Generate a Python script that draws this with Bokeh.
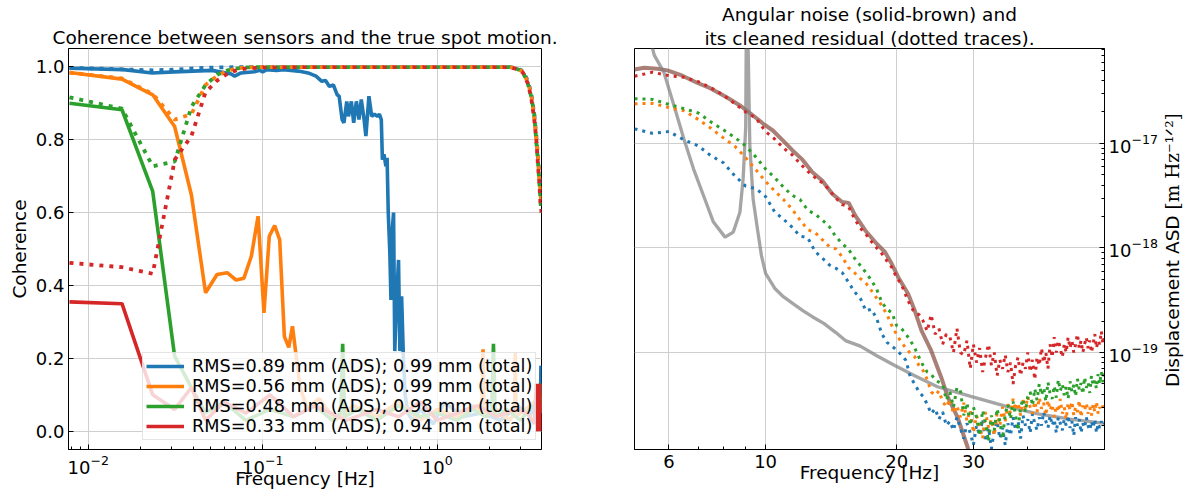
import math
import numpy as np
from bokeh.plotting import figure
from bokeh.layouts import row
from bokeh.models import (FixedTicker, LogTickFormatter, NumeralTickFormatter,
                          Legend, LegendItem, Title, Label)
from bokeh.embed import file_html
from bokeh.resources import INLINE

FONT = "DejaVu Sans"
SERIF = "DejaVu Serif"
BLUE, ORANGE, GREEN, RED = "#1f77b4", "#ff7f0e", "#2ca02c", "#d62728"
BROWN, GREY = "#8c564b", "#7f7f7f"

# ---------------------------------------------------------------------------
# Left panel: coherence of each sensor (solid) and of the total (dotted)
# ---------------------------------------------------------------------------
LEGEND_LABELS = [
    "RMS=0.89 mm (ADS); 0.99 mm (total)",
    "RMS=0.56 mm (ADS); 0.99 mm (total)",
    "RMS=0.48 mm (ADS); 0.98 mm (total)",
    "RMS=0.33 mm (ADS); 0.94 mm (total)",
]

blue_f = [0.0078, 0.0159, 0.0233, 0.031, 0.0512, 0.066, 0.069, 0.075, 0.0895, 0.096,
          0.1, 0.105, 0.12, 0.131, 0.145, 0.16, 0.182, 0.202, 0.218, 0.229,
          0.241, 0.254, 0.267, 0.274, 0.285, 0.292, 0.303, 0.31, 0.322, 0.332,
          0.344, 0.356, 0.367, 0.381, 0.39, 0.406, 0.421, 0.436, 0.454, 0.466,
          0.478, 0.485, 0.495, 0.508, 0.516, 0.524, 0.535, 0.543, 0.552, 0.562,
          0.571, 0.585, 0.6, 0.611, 0.625, 0.64, 0.655, 0.68, 0.72, 0.8,
          0.95, 1.1, 1.4, 1.8, 2.3, 2.9, 3.4, 3.7, 3.85, 3.9,
          3.93, 3.96]
blue_coh = [0.996, 0.992, 0.983, 0.986, 0.99, 0.98, 0.974, 0.983, 0.986, 0.99,
            0.986, 0.992, 0.99, 0.992, 0.99, 0.988, 0.983, 0.974, 0.96, 0.962,
            0.946, 0.95, 0.923, 0.919, 0.855, 0.846, 0.905, 0.864, 0.905, 0.846,
            0.905, 0.855, 0.91, 0.855, 0.81, 0.919, 0.864, 0.87, 0.864, 0.87,
            0.855, 0.745, 0.76, 0.727, 0.75, 0.6, 0.49, 0.36, 0.55, 0.6,
            0.22, 0.36, 0.47, 0.22, 0.37, 0.2, 0.1, 0.05, 0.03, 0.06,
            0.02, 0.08, 0.04, 0.05, 0.03, 0.07, 0.04, 0.09, 0.12, 0.05,
            0.18, 0.1]

orange_f = [0.0078, 0.0156, 0.0234, 0.03125, 0.039, 0.047, 0.0547, 0.0625, 0.0703, 0.078,
            0.086, 0.094, 0.1016, 0.109, 0.117, 0.125, 0.133, 0.141, 0.148, 0.156,
            0.164, 0.18, 0.21, 0.26, 0.33, 0.45, 0.6, 0.8, 1.0, 1.3,
            1.6, 1.8, 1.83, 1.86, 2.2, 2.6, 2.78, 2.8, 2.83, 3.2,
            3.6, 3.8, 3.9, 3.96]
orange_coh = [0.984, 0.966, 0.923, 0.836, 0.648, 0.38, 0.43, 0.435, 0.415, 0.42,
              0.48, 0.59, 0.325, 0.535, 0.564, 0.526, 0.26, 0.23, 0.288, 0.2,
              0.12, 0.06, 0.09, 0.03, 0.07, 0.04, 0.08, 0.03, 0.06, 0.04,
              0.07, 0.05, 0.225, 0.04, 0.06, 0.03, 0.05, 0.215, 0.04, 0.06,
              0.08, 0.02, 0.1, 0.05]

green_f = [0.0078, 0.0156, 0.0234, 0.03125, 0.039, 0.047, 0.06, 0.08, 0.11, 0.15,
           0.2, 0.25, 0.28, 0.287, 0.295, 0.35, 0.45, 0.6, 0.8, 1.0,
           1.3, 1.6, 1.9, 2.05, 2.1, 2.15, 2.5, 3.0, 3.5, 3.8,
           3.9, 3.96]
green_coh = [0.9, 0.882, 0.658, 0.206, 0.12, 0.05, 0.08, 0.03, 0.06, 0.04,
             0.07, 0.03, 0.05, 0.24, 0.04, 0.06, 0.03, 0.07, 0.04, 0.05,
             0.03, 0.06, 0.04, 0.05, 0.24, 0.04, 0.06, 0.03, 0.07, 0.05,
             0.13, 0.08]

red_f = [0.0078, 0.0156, 0.0234, 0.03125, 0.039, 0.047, 0.06, 0.08, 0.11, 0.15,
         0.2, 0.3, 0.45, 0.6, 0.8, 1.0, 1.3, 1.7, 2.2, 2.8,
         3.3, 3.6, 3.7, 3.75, 3.8, 3.83, 3.86, 3.88, 3.9, 3.92,
         3.94, 3.95, 3.96]
red_coh = [0.355, 0.35, 0.1, 0.06, 0.12, 0.03, 0.08, 0.05, 0.1, 0.04,
           0.07, 0.03, 0.06, 0.04, 0.08, 0.03, 0.05, 0.07, 0.04, 0.06,
           0.05, 0.02, 0.13, 0.0, 0.12, 0.01, 0.13, 0.0, 0.12, 0.02,
           0.13, 0.0, 0.1]

# total coherence (dotted traces)
total_f = [0.0078, 0.0156, 0.0234, 0.0313, 0.039, 0.047, 0.0547, 0.0625, 0.0703, 0.08,
           0.1, 0.15, 0.3, 0.6, 1.0, 1.6, 2.2, 2.6, 2.9, 3.1,
           3.3, 3.45, 3.6, 3.7, 3.78, 3.85, 3.9, 3.93, 3.96]
blue_total = [0.997, 0.993, 0.99, 0.992, 0.995, 0.997, 0.998, 0.998, 0.999, 0.999,
              0.999, 0.999, 0.999, 0.999, 0.999, 0.999, 0.999, 0.999, 0.995, 0.988,
              0.962, 0.93, 0.87, 0.81, 0.75, 0.7, 0.68, 0.7, 0.66]
orange_total = [0.984, 0.968, 0.925, 0.855, 0.87, 0.95, 0.975, 0.988, 0.995, 0.998,
                0.999, 0.999, 0.999, 0.999, 0.999, 0.999, 0.999, 0.999, 0.994, 0.986,
                0.958, 0.925, 0.86, 0.8, 0.76, 0.69, 0.66, 0.64, 0.63]
green_total = [0.916, 0.885, 0.727, 0.74, 0.89, 0.95, 0.978, 0.99, 0.995, 0.998,
               0.999, 0.999, 0.999, 0.999, 0.999, 0.999, 0.999, 0.999, 0.993, 0.985,
               0.955, 0.92, 0.87, 0.79, 0.74, 0.68, 0.64, 0.61, 0.6]
red_total = [0.462, 0.45, 0.432, 0.745, 0.81, 0.93, 0.962, 0.98, 0.99, 0.995,
             0.998, 0.999, 0.999, 0.999, 0.999, 0.999, 0.999, 0.999, 0.993, 0.984,
             0.955, 0.918, 0.855, 0.8, 0.73, 0.68, 0.63, 0.62, 0.6]

# ---------------------------------------------------------------------------
# Right panel: displacement ASD (values in units of 1e-20 m/sqrt(Hz))
# ---------------------------------------------------------------------------
ASD_UNIT = 1e-20
freq_bins = np.round(np.arange(5.0, 60.001, 0.5), 2)

red_res = [4400, 4800, 4450, 4300, 3900, 3400, 2900, 2400, 2000, 1750,
           1300, 1100, 900, 780, 640, 540, 470, 420, 360, 300,
           260, 250, 190, 155, 135, 115, 100, 88, 75, 65, 52,
           45, 35, 28, 24, 23, 20, 16, 23, 15, 17,
           12, 15, 14, 10, 17, 10, 9.5, 13, 7, 12,
           8, 11, 6.5, 9, 12, 7.5, 10, 6, 8.5, 7,
           9.5, 6.5, 8, 5, 7.5, 9, 6, 8, 7, 10,
           6.5, 8.5, 5.5, 9, 7.5, 11, 8, 10, 7, 12,
           9, 14, 10, 13, 11, 9, 12, 10, 14, 11,
           13, 10, 12, 15, 11, 13, 10, 12, 14, 11,
           13, 10, 12, 15, 11, 13, 12, 16, 12, 15]
green_res = [2680, 2640, 2360, 2150, 1960, 1600, 1350, 1140, 950, 740,
             570, 470, 380, 320, 290, 230, 210, 185, 160, 128,
             110, 97, 80, 68, 58, 49, 40, 30, 26, 24, 18,
             17, 15, 13, 11, 9, 7.5, 6.5, 6.2, 5.5, 5.2,
             5, 3.5, 4.2, 3, 4.6, 4.4, 2.5, 3.3, 2, 3,
             2.4, 1.6, 2.8, 2.1, 1.4, 2.5, 1.8, 2.9, 2.2, 1.5,
             2.6, 3.2, 2.3, 3.4, 2.5, 1.8, 3, 3.6, 2.7, 3.8,
             4.2, 3.1, 4.5, 3.5, 5, 3.9, 4.6, 3.4, 5.2, 4,
             3.6, 4.8, 3.7, 5.5, 4.3, 5, 3.9, 4.7, 3.6, 5.3,
             4.2, 4.9, 3.8, 5.6, 4.4, 5.1, 4, 5.8, 4.6, 5.2,
             4.1, 6, 4.8, 5.4, 4.5, 6.2, 5, 6.5, 5.2, 6.8]
orange_res = [2400, 2420, 2200, 2050, 1700, 1390, 1130, 940, 730, 560,
              433, 350, 290, 235, 185, 150, 140, 120, 103, 98,
              82, 65, 58, 51, 46, 39, 33, 28, 23, 18, 14.8,
              12.5, 11, 9.8, 9.1, 7.5, 6.7, 5.5, 4.2, 3.9, 4.3,
              3.4, 3.0, 3.6, 2.6, 3.1, 2.4, 3.3, 2.2, 2.8, 1.7,
              2.5, 2.0, 1.5, 2.7, 1.9, 2.3, 1.6, 2.6, 2.0, 3.0,
              2.2, 3.2, 2.6, 3.6, 2.8, 3.3, 2.5, 3.5, 2.9, 3.8,
              3.0, 2.6, 3.4, 2.7, 3.7, 2.9, 3.3, 2.5, 3.5, 2.8,
              3.2, 2.4, 3.1, 2.7, 3.6, 2.6, 3.0, 2.3, 3.3, 2.8,
              3.4, 2.5, 3.0, 2.7, 3.5, 2.4, 3.1, 2.8, 3.3, 2.6,
              3.0, 2.5, 3.2, 2.7, 3.4, 2.6, 3.0, 2.8, 3.1, 2.7]
blue_res = [1380, 1250, 1300, 1080, 950, 760, 654, 490, 390, 370,
            310, 220, 188, 158, 130, 125, 92, 80, 69, 64,
            58, 47, 38, 33, 25, 26, 21, 15, 12.5, 11.5, 10.5,
            9.5, 8.4, 5.8, 5.0, 4.2, 3.8, 3.2, 2.6, 2.9, 2.3,
            2.7, 2.0, 2.2, 1.8, 2.4, 1.9, 1.5, 2.1, 1.7, 1.3,
            2.0, 1.6, 2.3, 1.4, 1.9, 1.2, 1.8, 2.2, 1.5, 1.9,
            1.3, 2.1, 1.6, 2.4, 1.8, 2.2, 1.5, 2.5, 2.0, 2.3,
            1.7, 2.6, 2.1, 1.8, 2.4, 2.0, 2.7, 2.2, 1.9, 2.5,
            2.0, 2.3, 1.7, 2.4, 2.1, 1.8, 2.3, 2.0, 2.5, 1.9,
            2.2, 1.6, 2.4, 2.0, 2.3, 1.7, 2.1, 1.9, 2.4, 2.0,
            1.8, 2.2, 1.9, 2.3, 1.7, 2.1, 1.9, 2.2, 2.0, 2.1]

# angular noise (solid brown)
angular_f = [5.0, 5.26, 5.64, 5.95, 6.37, 6.96, 7.46, 8.14, 8.73, 9.36,
             9.86, 10.39, 10.95, 11.53, 12.15, 12.81, 13.5, 14.22, 14.99, 15.52,
             16.07, 16.94, 17.85, 18.81, 19.48, 20.16, 21.24, 22.0, 22.8, 24.0,
             25.3, 26.2, 27.6, 29.1, 30.0]
angular_asd = [5100, 5300, 5190, 5000, 4540, 3810, 3380, 2770, 2310, 1850,
               1550, 1330, 1070, 857, 700, 530, 440, 330, 275, 270,
               204, 147, 114, 91, 70.6, 52.5, 36.5, 25.2, 16.2, 10.4,
               5.8, 3.74, 2.4, 1.24, 0.7]

# sensor noise model (solid grey)
model_f = [5.3, 5.55, 5.84, 6.16, 6.49, 6.83, 7.2, 7.59, 8.07, 8.43,
           8.73, 8.88, 9.0, 9.05, 9.13, 9.2, 9.36, 9.6, 9.78, 10.0,
           10.5, 11.0, 11.6, 12.2, 12.8, 13.6, 14.5, 15.25, 16.5, 18.0,
           19.8, 22.0, 24.8, 29.6, 35.2, 41.9, 50.0, 60.0]
model_asd = [15000, 7000, 4800, 2310, 1110, 572, 318, 177, 127, 142,
             220, 460, 1400, 50000, 6000, 960, 295, 142, 85, 57,
             41, 34, 29, 25, 22, 19, 15.5, 13, 11.5, 9.3,
             7.5, 6.0, 4.7, 3.8, 3.1, 2.6, 2.3, 2.1]

for fx, vy in [(blue_f, blue_coh), (orange_f, orange_coh), (green_f, green_coh), (red_f, red_coh),
               (total_f, blue_total), (total_f, orange_total), (total_f, green_total), (total_f, red_total),
               (freq_bins, red_res), (freq_bins, green_res), (freq_bins, orange_res), (freq_bins, blue_res),
               (angular_f, angular_asd), (model_f, model_asd)]:
    assert len(fx) == len(vy)

TOP, BOTTOM = 48, 43


def style_title(t):
    t.align = "center"
    t.text_font = FONT
    t.text_font_size = "18.5px"
    t.text_font_style = "normal"
    t.text_color = "black"
    t.standoff = 1


def style_panel(p):
    style_title(p.title)
    for ax in p.axis:
        ax.major_tick_in = 5
        ax.major_tick_out = 0
        ax.minor_tick_in = 3
        ax.minor_tick_out = 0
        ax.major_tick_line_color = "black"
        ax.minor_tick_line_color = "black"
        ax.axis_line_color = "black"
        ax.major_label_text_font = FONT
        ax.major_label_text_font_size = "18px"
        ax.major_label_text_color = "black"
        ax.major_label_standoff = 4
        ax.axis_label_text_font = FONT
        ax.axis_label_text_font_size = "18.5px"
        ax.axis_label_text_font_style = "normal"
        ax.axis_label_text_color = "black"
        ax.axis_label_standoff = 3
    for ax in p.xaxis:
        ax.major_label_standoff = 5
        ax.axis_label_standoff = -9
    p.outline_line_color = "black"
    p.outline_line_alpha = 1.0
    p.grid.grid_line_color = "#cfcfcf"
    p.grid.grid_line_width = 1


# ---------------- left figure ----------------
left = figure(width=600, height=492, x_axis_type="log",
              x_range=(0.0077, 3.96), y_range=(-0.05, 1.05),
              output_backend="svg", toolbar_location=None,
              min_border_left=68, min_border_right=59, min_border_top=TOP, min_border_bottom=BOTTOM,
              title="Coherence between sensors and the true spot motion.")
left.xaxis.ticker = FixedTicker(
    ticks=[0.01, 0.1, 1.0],
    minor_ticks=[m * 10.0 ** e for e in (-3, -2, -1, 0) for m in range(2, 10)])
left.xaxis.formatter = LogTickFormatter()
left.yaxis.ticker = FixedTicker(ticks=[0.0, 0.2, 0.4, 0.6, 0.8, 1.0], minor_ticks=[])
left.yaxis.formatter = NumeralTickFormatter(format="0.0")
left.xaxis.axis_label = "Frequency [Hz]"
left.yaxis.axis_label = "Coherence"
style_panel(left)

solid_sets = [(blue_f, blue_coh, BLUE), (orange_f, orange_coh, ORANGE),
              (green_f, green_coh, GREEN), (red_f, red_coh, RED)]
total_sets = [blue_total, orange_total, green_total, red_total]
solid_renderers = []
for (fx, cy, col), tot in zip(solid_sets, total_sets):
    r = left.line(fx, cy, line_color=col, line_width=3.6)
    solid_renderers.append(r)
    left.line(total_f, tot, line_color=col, line_width=3.8, line_dash="4 6")

legend = Legend(
    items=[LegendItem(label=lab, renderers=[r]) for lab, r in zip(LEGEND_LABELS, solid_renderers)],
    location=(74, 9), orientation="vertical",
    label_text_font=FONT, label_text_font_size="17.7px", label_text_color="black",
    glyph_width=38, glyph_height=20, label_height=20, label_standoff=8,
    spacing=0, padding=3, margin=0,
    background_fill_color="white", background_fill_alpha=0.8,
    border_line_color="#cccccc", border_line_width=1)
left.add_layout(legend)

# ---------------- right figure ----------------
right = figure(width=560, height=492, x_axis_type="log", y_axis_type="log",
               x_range=(5.0, 60.0), y_range=(1.18e-20, 8.1e-17),
               y_axis_location="right",
               output_backend="svg", toolbar_location=None,
               min_border_left=34, min_border_right=52, min_border_top=TOP, min_border_bottom=BOTTOM,
               title="Angular noise (solid-brown) and")
right.add_layout(Title(text="its cleaned residual (dotted traces)."), "above")
right.xaxis.ticker = FixedTicker(ticks=[6, 10, 20, 30], minor_ticks=[5, 7, 8, 9, 40, 50, 60])
right.xaxis.formatter = NumeralTickFormatter(format="0")
right.yaxis.ticker = FixedTicker(
    ticks=[1e-19, 1e-18, 1e-17],
    minor_ticks=[m * 10.0 ** e for e in (-21, -20, -19, -18, -17) for m in range(2, 10)])
right.yaxis.formatter = LogTickFormatter()
right.xaxis.axis_label = "Frequency [Hz]"
style_panel(right)
for t in right.above:
    if isinstance(t, Title):
        style_title(t)
        t.standoff = 0

right.line(angular_f, np.array(angular_asd) * ASD_UNIT, line_color=BROWN, line_alpha=0.75, line_width=4)
right.line(model_f, np.array(model_asd) * ASD_UNIT, line_color=GREY, line_alpha=0.7, line_width=3.3)
for vals, col in [(blue_res, BLUE), (orange_res, ORANGE), (green_res, GREEN), (red_res, RED)]:
    right.line(freq_bins, np.array(vals) * ASD_UNIT, line_color=col, line_width=3.0, line_dash="3 5")

# ---------------- strip holding the right-hand axis caption ----------------
caption = figure(width=24, height=492, x_range=(0, 1), y_range=(0, 1),
                 output_backend="svg", toolbar_location=None,
                 x_axis_location=None, y_axis_location=None,
                 min_border_left=0, min_border_right=0, min_border_top=TOP, min_border_bottom=BOTTOM)
caption.outline_line_color = None
caption.grid.visible = False
split_y = 240
caption.add_layout(Label(x=12, y=split_y, x_units="screen", y_units="screen",
                         text="Displacement ASD ", angle=math.pi / 2,
                         text_align="right", text_baseline="middle",
                         text_font=FONT, text_font_size="18.5px", text_color="black"))
caption.add_layout(Label(x=12, y=split_y, x_units="screen", y_units="screen",
                         text="[m Hz\u207b\u00b9\u141f\u00b2]", angle=math.pi / 2,
                         text_align="left", text_baseline="middle",
                         text_font=SERIF, text_font_size="18.5px", text_color="black"))

layout = row(left, right, caption)
open("out.html", "w").write(file_html(layout, INLINE))
